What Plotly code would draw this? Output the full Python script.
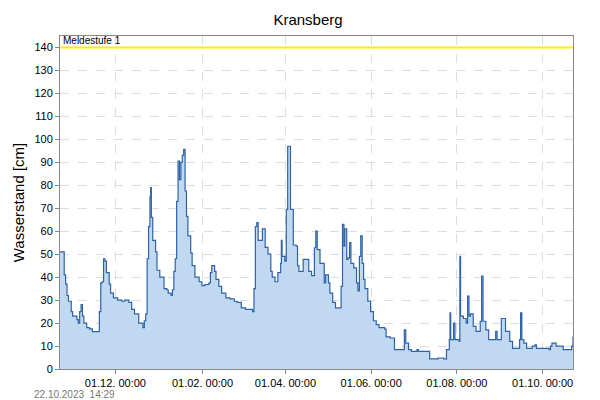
import plotly.graph_objects as go
import pandas as pd

start = pd.Timestamp("2022-10-22 14:29")
end = pd.Timestamp("2023-10-22 14:29")

# day offsets from start and water level in cm
days = [0, 3, 4, 5, 6, 8, 9, 12, 13, 14, 15, 16, 17, 19, 21, 23, 27, 28, 29, 30, 31, 32, 33, 35, 36, 38,
        41, 44, 46, 49, 51, 53, 56, 59, 60, 61, 62, 63, 64, 64.5, 65, 66, 68, 69, 71, 74, 76, 77, 79, 80,
        81, 82, 83, 84, 85, 86, 87, 88, 89, 90, 91, 93, 94, 96, 99, 101, 103, 106, 107, 108, 110, 111, 113,
        115, 118, 121, 124, 126, 129, 132, 134, 137, 138, 139, 140, 141, 143, 144, 146, 148, 150, 151, 153,
        155, 157, 157.5, 158, 160, 161, 162, 163, 164, 166, 168, 169, 170, 172, 173, 176, 177, 179, 181,
        182, 183, 185, 188, 189, 191, 192, 194, 196, 199, 200, 201, 202, 202.6, 204, 205, 206, 207, 209,
        211, 212, 213, 214, 215, 216, 217, 219, 221, 223, 225, 227, 231, 232, 235, 238, 244, 245, 246, 248,
        250, 253, 254, 255, 262, 263, 269, 273, 275, 277, 277.5, 278, 280, 281, 283, 284, 284.5, 285, 287,
        289, 290, 291, 292, 294, 296, 299, 300, 301, 303, 305, 310, 311, 314, 317, 320, 322, 327, 327.7,
        328.6, 330, 332, 336, 338, 339, 348, 349, 350, 353, 358, 359, 364, 365]
level = [51, 41, 37, 32, 29.5, 25, 23, 21.5, 20, 25, 28, 23, 20, 18, 17.5, 16.3, 16.3, 25, 37.5, 38, 48, 47,
         42, 37, 33, 31, 30, 29.5, 30, 29, 26, 24, 20, 18, 21, 24, 48, 62, 75, 79, 66, 56, 51, 43, 40, 35,
         34.5, 33, 32, 34.5, 42.5, 48, 73, 90.5, 82.5, 90, 93, 95.6, 77.5, 66.5, 58, 50.6, 45, 40, 38,
         36.3, 36.8, 37.5, 42, 45, 42.5, 39, 36, 33, 31, 30.5, 29.5, 29, 26.6, 26, 26, 25, 35, 62, 63.7,
         56, 56, 61, 53, 50, 42.5, 40, 38, 42, 46, 56, 49, 47, 69.5, 97, 97, 69.5, 54, 53.5, 45, 42.5,
         42.5, 47.7, 47.7, 42.5, 40.7, 52.8, 60, 52, 46, 37.5, 41, 37.5, 33, 29, 26.6, 26.6, 36, 63, 53.5,
         61, 47.7, 48.4, 55, 46, 44, 37.5, 34, 49, 58, 46, 39, 35, 29.5, 25, 21, 19.3, 18, 17.4, 14, 13.5,
         8.4, 8.4, 17, 11.3, 8.4, 7.7, 7.7, 8.4, 7.7, 7.7, 4.4, 4.8, 4.4, 8.4, 12.8, 24.4, 12.8, 20, 12.8,
         12.8, 12, 49, 23, 22, 20, 31.7, 23, 24, 18.6, 16.4, 20.8, 40.4, 20.8, 17, 12.8, 16.4, 12.8, 22,
         16.4, 12, 9, 12.8, 24.4, 12.8, 11.3, 9, 10, 10.5, 9, 8.4, 10, 11.3, 10, 8.4, 8.4, 10, 14, 14]

meldestufe = 140

x = [start + pd.Timedelta(days=d) for d in days]

fig = go.Figure()
fig.add_trace(go.Scatter(x=x, y=level, mode="lines", line_shape="hv",
                         line=dict(color="#2f63a8", width=1.2), fill="tozeroy",
                         fillcolor="#c0d8f0"))
fig.add_trace(go.Scatter(x=[start, end], y=[meldestufe, meldestufe], mode="lines",
                         line=dict(color="#ffee00", width=2)))

fig.add_annotation(x=0, xref="paper", y=meldestufe, yref="y", text="Meldestufe 1",
                   showarrow=False, xanchor="left", yanchor="bottom", xshift=1, yshift=-1,
                   font=dict(size=10, color="black"))
fig.add_annotation(x=-0.055, xref="paper", y=-0.055, yref="paper", text="22.10.2023  14:29",
                   showarrow=False, xanchor="left", yanchor="top",
                   font=dict(size=10, color="#777777"))

fig.update_layout(
    width=600, height=400,
    margin=dict(l=52, r=35, t=28, b=39),
    paper_bgcolor="white", plot_bgcolor="white",
    font=dict(family="Liberation Sans, Arial", color="black"),
    title=dict(text="Kransberg", x=0.5, y=0.985, xanchor="center", yanchor="top",
               font=dict(size=15)),
    showlegend=False,
    xaxis=dict(range=[start, end], tickformat="%d.%m. %H:%M", dtick="M2", automargin=False,
               tick0="2022-12-01", tickfont=dict(size=11), showline=True, linecolor="#888888",
               mirror=True, ticks="outside", ticklen=4, tickcolor="#888888",
               showgrid=True, gridcolor="#dddddd", griddash="dash"),
    yaxis=dict(range=[0, 145], dtick=10, tickfont=dict(size=11), showline=True, automargin=False,
               linecolor="#888888", mirror=True, ticks="outside", ticklen=4, tickcolor="#888888",
               showgrid=True, gridcolor="#dddddd", griddash="dash",
               title=dict(text="Wasserstand [cm]", font=dict(size=15), standoff=6)),
)

fig.write_html("out.html")
